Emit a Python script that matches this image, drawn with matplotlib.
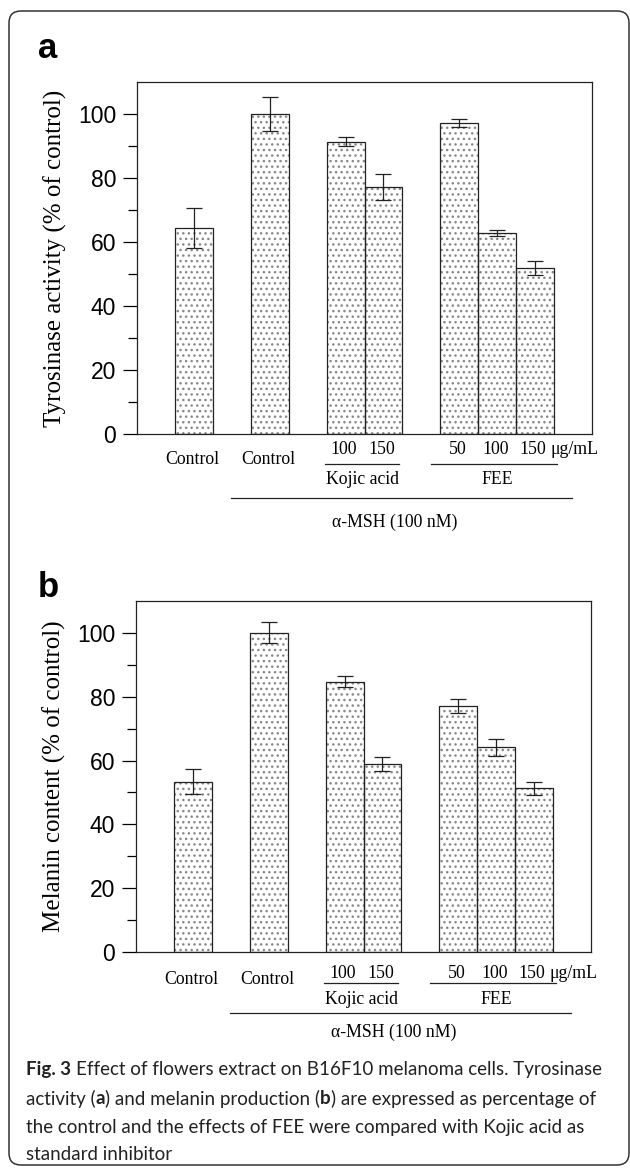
import matplotlib
matplotlib.use('Agg')
import matplotlib.pyplot as plt
from matplotlib.patches import FancyBboxPatch
from matplotlib.transforms import IdentityTransform, offset_copy

# values (% of control)
tyrosinase = [64.4, 100.0, 91.4, 77.3, 97.1, 62.9, 51.8]
tyrosinase_err = [6.2, 5.3, 1.4, 4.1, 1.2, 1.0, 2.2]
melanin = [53.4, 100.0, 84.7, 58.9, 77.0, 64.2, 51.3]
melanin_err = [3.9, 3.3, 1.7, 2.1, 2.2, 2.7, 2.1]
dose_labels = ['Control', 'Control', '100', '150', '50', '100', '150']
x_pos = [1.5, 3.5, 5.5, 6.5, 8.5, 9.5, 10.5]

W, H = 630, 1168
fig = plt.figure(figsize=(W / 100, H / 100), dpi=100)

serif = 'Liberation Serif'
sans = 'Liberation Sans'


def px_to_pt(p):
    return p * 72 / 100


def below(ax, x, px, text, **kw):
    tr = offset_copy(ax.get_xaxis_transform(), fig, y=-px_to_pt(px), units='points')
    ax.text(x, 0, text, transform=tr, ha='center', va='center',
            family=serif, fontsize=12.8, clip_on=False, **kw)


def hline(ax, x1, x2, px):
    tr = offset_copy(ax.get_xaxis_transform(), fig, y=-px_to_pt(px), units='points')
    ax.plot([x1, x2], [0, 0], transform=tr, color='#222222', lw=0.9, clip_on=False)


def panel(rect, values, errs, ylabel, letter, offs):
    ax = fig.add_axes(rect)
    ax.bar(x_pos, values, width=1.0, color='white', edgecolor='#888888',
           hatch='...', linewidth=0)
    ax.bar(x_pos, values, width=1.0, fill=False, edgecolor='#222222', linewidth=0.9)
    ax.errorbar(x_pos, values, yerr=errs, fmt='none', ecolor='#222222',
                elinewidth=0.9, capsize=6, capthick=0.9)
    ax.set_xlim(0, 12)
    ax.set_ylim(0, 110)
    ax.set_yticks([0, 20, 40, 60, 80, 100])
    ax.set_yticks([10, 30, 50, 70, 90], minor=True)
    ax.set_xticks([])
    ax.tick_params(axis='y', which='major', length=10, width=0.9, pad=5,
                   labelsize=16.5)
    ax.tick_params(axis='y', which='minor', length=6.5, width=0.9)
    for lab in ax.get_yticklabels():
        lab.set_family(sans)
    for s in ax.spines.values():
        s.set_linewidth(0.9)
        s.set_color('#222222')
    ax.set_ylabel(ylabel, family=serif, fontsize=18, labelpad=8)

    c_off, d_off, u_off, k_off, l_off, m_off = offs
    for x, lab in zip(x_pos, dose_labels):
        if lab == 'Control':
            below(ax, x - 0.03, c_off, lab)
        else:
            below(ax, x - 0.05, d_off, lab)
    below(ax, 11.55, d_off, 'μg/mL')
    hline(ax, 4.95, 6.9, u_off)
    hline(ax, 7.76, 11.08, u_off)
    below(ax, 5.95, k_off, 'Kojic acid')
    below(ax, 9.5, k_off, 'FEE')
    hline(ax, 2.47, 11.47, l_off)
    below(ax, 6.8, m_off, 'α-MSH (100 nM)')

    fig.text(38 / W, 1 - letter[1] / H, letter[0], family=sans, fontweight='bold',
             fontsize=25, ha='left', va='baseline')
    return ax


panel([137 / W, 1 - 434 / H, 455 / W, 352 / H], tyrosinase, tyrosinase_err,
      'Tyrosinase activity (% of control)', ('a', 58), (25, 16, 30, 46, 64, 88))
panel([136 / W, 1 - 952 / H, 455 / W, 351 / H], melanin, melanin_err,
      'Melanin content (% of control)', ('b', 597), (27, 21, 31, 48, 61, 80))

# outer rounded frame
frame = FancyBboxPatch((9, 3), 620, 1154, boxstyle='round,pad=0,rounding_size=12',
                       transform=IdentityTransform(), fill=False,
                       edgecolor='#333333', linewidth=1.1)
fig.add_artist(frame)

# caption with bold pieces
cap_font = 'Lato'
renderer = fig.canvas.get_renderer()

caption = [
    [('Fig. 3', 'bold'), (' Effect of flowers extract on B16F10 melanoma cells. Tyrosinase', 'normal')],
    [('activity (', 'normal'), ('a', 'bold'), (') and melanin production (', 'normal'),
     ('b', 'bold'), (') are expressed as percentage of', 'normal')],
    [('the control and the effects of FEE were compared with Kojic acid as', 'normal')],
    [('standard inhibitor', 'normal')],
]
line_y = [1070, 1099, 1127, 1154]


def text_w(s, weight, size):
    t = fig.text(0, 0, s, family=cap_font, fontsize=size, fontweight=weight)
    w = t.get_window_extent(renderer=renderer).width
    t.remove()
    return w


def line_width(parts, size):
    sp = text_w('a a', 'normal', size) - text_w('aa', 'normal', size)
    total = 0
    for s, weight in parts:
        lead = len(s) - len(s.lstrip(' '))
        trail = len(s) - len(s.rstrip(' '))
        total += (lead + trail) * sp + text_w(s.strip(' '), weight, size)
    return total, sp


# first caption line runs from x=26 to x=602 in the reference
cap_size = 14.0 * 576 / line_width(caption[0], 14.0)[0]
_, space_w = line_width(caption[0], cap_size)

for parts, y in zip(caption, line_y):
    x = 26
    for s, weight in parts:
        lead = len(s) - len(s.lstrip(' '))
        trail = len(s) - len(s.rstrip(' '))
        x += lead * space_w
        t = fig.text(x / W, 1 - y / H, s.strip(' '), family=cap_font, fontsize=cap_size,
                     fontweight=weight, color='#222222', ha='left', va='center')
        x += t.get_window_extent(renderer=renderer).width + trail * space_w

fig.savefig('out.png', dpi=100)
